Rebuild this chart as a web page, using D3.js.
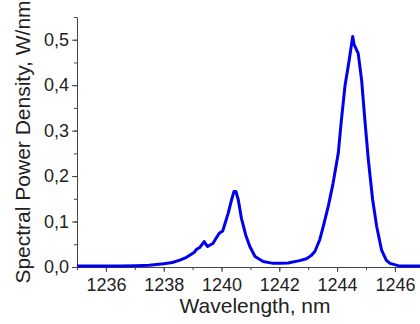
<!DOCTYPE html>
<html lang="en">
<head>
<meta charset="utf-8">
<title>Spectral Power Density</title>
<script src="https://d3js.org/d3.v7.min.js"></script>
<style>
  body { margin: 0; background: #fff; }
  .tick text { font-family: "Liberation Sans", Arial, sans-serif; }
</style>
</head>
<body>
<div id="my_dataviz"></div>
<script>

// wavelength (nm) and spectral power density (W/nm)
var wavelength = [1235.0, 1235.5, 1236.0, 1236.5, 1237.0, 1237.5, 1238.0, 1238.3, 1238.56, 1238.75,
  1238.9, 1239.05, 1239.14, 1239.25, 1239.33, 1239.40, 1239.46, 1239.52, 1239.62, 1239.71,
  1239.80, 1239.92, 1240.04, 1240.12, 1240.23, 1240.35, 1240.43, 1240.50, 1240.58, 1240.69,
  1240.84, 1240.98, 1241.16, 1241.44, 1241.79, 1242.0, 1242.3, 1242.7, 1242.94, 1243.1,
  1243.23, 1243.4, 1243.52, 1243.7, 1243.86, 1244.04, 1244.15, 1244.27, 1244.42, 1244.54,
  1244.59, 1244.73, 1244.85, 1244.96, 1245.08, 1245.23, 1245.37, 1245.54, 1245.7, 1245.83,
  1246.17, 1246.5, 1247.0];
var power = [0.002, 0.002, 0.002, 0.002, 0.003, 0.004, 0.007, 0.010, 0.015, 0.020,
  0.026, 0.032, 0.039, 0.043, 0.050, 0.056, 0.050, 0.045, 0.049, 0.052,
  0.062, 0.074, 0.079, 0.095, 0.118, 0.148, 0.166, 0.166, 0.148, 0.107,
  0.070, 0.045, 0.023, 0.012, 0.008, 0.008, 0.009, 0.014, 0.018, 0.025,
  0.034, 0.060, 0.089, 0.135, 0.184, 0.250, 0.324, 0.397, 0.456, 0.507,
  0.489, 0.470, 0.410, 0.324, 0.236, 0.148, 0.089, 0.037, 0.015, 0.008,
  0.002, 0.002, 0.002];

var xTicks = [1236, 1238, 1240, 1242, 1244, 1246];
var yTicks = [0, 0.1, 0.2, 0.3, 0.4, 0.5];
var xTitle = "Wavelength, nm";
var yTitle = "Spectral Power Density, W/nm";

var data = wavelength.map(function(w, i) { return { w: w, p: power[i] }; });

var W = 420, H = 324;
var plotLeft = 77, plotTop = 17, plotBottom = 267;

var svg = d3.select("#my_dataviz")
  .append("svg")
    .attr("width", W)
    .attr("height", H);

var x = d3.scaleLinear().domain([1235, 1247]).range([plotLeft, plotLeft + 12 * 28.9]);
var y = d3.scaleLinear().domain([0, 0.55]).range([plotBottom, plotTop]);

// minor ticks
svg.append("g")
  .attr("transform", "translate(0," + plotBottom + ")")
  .call(d3.axisBottom(x).tickValues(d3.range(1235, 1248, 1)).tickSize(3).tickFormat(""))
  .call(function(g) { g.select(".domain").remove(); })
  .selectAll("line").attr("stroke", "#444");
svg.append("g")
  .attr("transform", "translate(" + plotLeft + ",0)")
  .call(d3.axisLeft(y).tickValues(d3.range(0, 0.56, 0.05)).tickSize(3).tickFormat(""))
  .call(function(g) { g.select(".domain").remove(); })
  .selectAll("line").attr("stroke", "#444");

// X axis
var gx = svg.append("g")
  .attr("transform", "translate(0," + plotBottom + ")")
  .call(d3.axisBottom(x).tickValues(xTicks).tickSize(5).tickSizeOuter(0).tickFormat(d3.format("d")));
gx.select(".domain").attr("stroke", "#444");
gx.selectAll("line").attr("stroke", "#444");
gx.selectAll("text").attr("font-size", 18).attr("fill", "#222").attr("dy", "0.9em");

// Y axis
var gy = svg.append("g")
  .attr("transform", "translate(" + plotLeft + ",0)")
  .call(d3.axisLeft(y).tickValues(yTicks).tickSize(5).tickSizeOuter(0)
    .tickFormat(function(d) { return d3.format(".1f")(d).replace(".", ","); }));
gy.select(".domain").attr("stroke", "#444");
gy.selectAll("line").attr("stroke", "#444");
gy.selectAll("text").attr("font-size", 18).attr("fill", "#222").attr("x", -8);

// axis titles
svg.append("text")
  .attr("x", 255)
  .attr("y", 313)
  .attr("text-anchor", "middle")
  .attr("font-family", "Liberation Sans, Arial, sans-serif")
  .attr("font-size", 21)
  .attr("fill", "#222")
  .text(xTitle);

svg.append("text")
  .attr("transform", "translate(30,142) rotate(-90)")
  .attr("text-anchor", "middle")
  .attr("font-family", "Liberation Sans, Arial, sans-serif")
  .attr("font-size", 21)
  .attr("fill", "#222")
  .text(yTitle);

// the spectrum
svg.append("path")
  .datum(data)
  .attr("fill", "none")
  .attr("stroke", "#0000ee")
  .attr("stroke-width", 3)
  .attr("stroke-linejoin", "round")
  .attr("d", d3.line()
    .x(function(d) { return x(d.w); })
    .y(function(d) { return y(d.p); }));

</script>
</body>
</html>
